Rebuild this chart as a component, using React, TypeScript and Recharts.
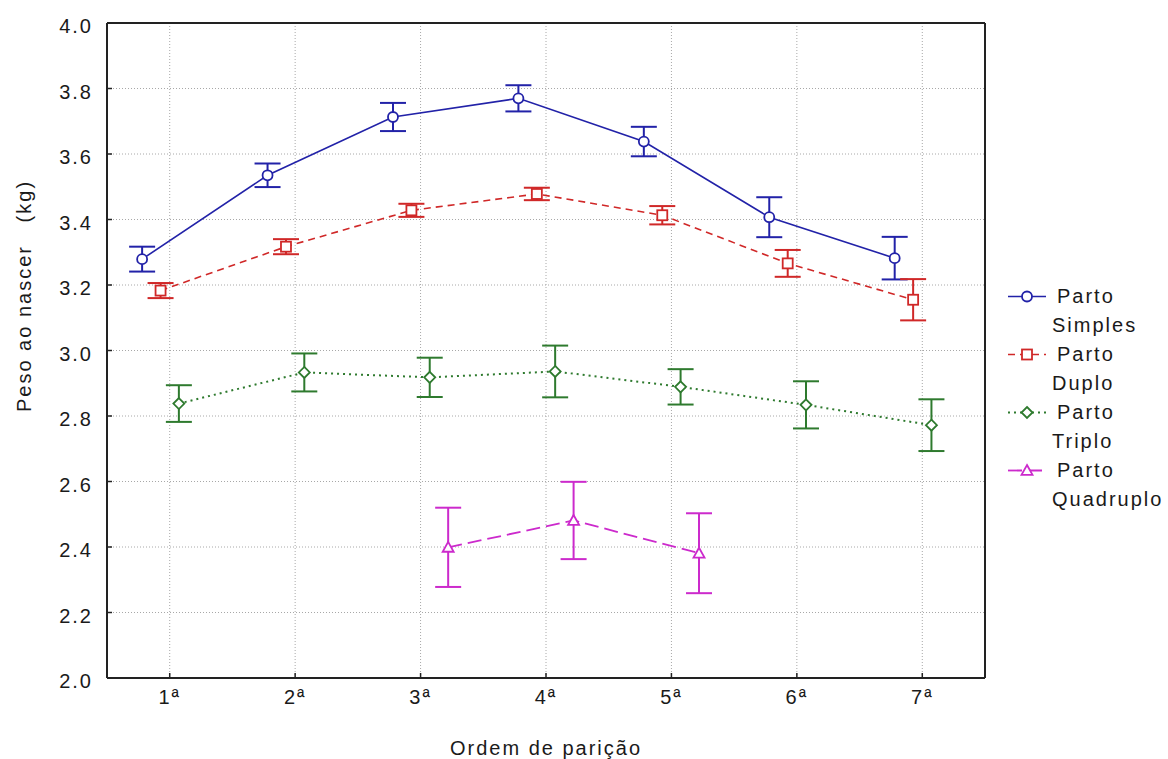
import React from 'react';
import { ComposedChart, Line, XAxis, YAxis, CartesianGrid, ErrorBar, Legend } from 'recharts';

// ---- data ----
const categories = ['1ª', '2ª', '3ª', '4ª', '5ª', '6ª', '7ª'];
const xTicks = [1, 2, 3, 4, 5, 6, 7];
const yTicks = [2.0, 2.2, 2.4, 2.6, 2.8, 3.0, 3.2, 3.4, 3.6, 3.8, 4.0];

const simplesMean = [3.279, 3.535, 3.713, 3.770, 3.638, 3.407, 3.282];
const simplesErr = [0.038, 0.036, 0.043, 0.040, 0.045, 0.061, 0.065];

const duploMean = [3.183, 3.317, 3.428, 3.478, 3.413, 3.266, 3.155];
const duploErr = [0.023, 0.023, 0.020, 0.019, 0.028, 0.041, 0.063];

const triploMean = [2.838, 2.933, 2.918, 2.936, 2.889, 2.834, 2.772];
const triploErr = [0.056, 0.058, 0.060, 0.079, 0.054, 0.072, 0.079];

const quadMean: (number | null)[] = [null, null, 2.399, 2.481, 2.381, null, null];
const quadErr: (number | null)[] = [null, null, 0.121, 0.118, 0.122, null, null];

const FONT = '"Liberation Sans", Arial, Helvetica, sans-serif';
const TEXT_COLOR = '#1a1a1a';
const FS = 20;
const LS = 2;

type Shape = 'circle' | 'square' | 'diamond' | 'triangle';

interface SeriesDef {
  key: string;
  line1: string;
  line2: string;
  mean: (number | null)[];
  err: (number | null)[];
  color: string;
  dash?: string;
  width: number;
  shape: Shape;
  offset: number;
}

const series: SeriesDef[] = [
  { key: 'simples', line1: 'Parto', line2: 'Simples', mean: simplesMean, err: simplesErr, color: '#2222a8', width: 1.6, shape: 'circle', offset: -0.22 },
  { key: 'duplo', line1: 'Parto', line2: 'Duplo', mean: duploMean, err: duploErr, color: '#d02828', dash: '7 5', width: 1.6, shape: 'square', offset: -0.073 },
  { key: 'triplo', line1: 'Parto', line2: 'Triplo', mean: triploMean, err: triploErr, color: '#2e7a2e', dash: '2 4', width: 2, shape: 'diamond', offset: 0.073 },
  { key: 'quad', line1: 'Parto', line2: 'Quadruplo', mean: quadMean, err: quadErr, color: '#cc2acc', dash: '14 6', width: 1.8, shape: 'triangle', offset: 0.22 },
];

function buildData(mean: (number | null)[], err: (number | null)[], offset: number) {
  const out: { x: number; y: number; e: number }[] = [];
  mean.forEach((m, i) => {
    if (m !== null && m !== undefined) {
      out.push({ x: xTicks[i] + offset, y: m, e: (err[i] as number) || 0 });
    }
  });
  return out;
}

function Marker({ cx, cy, shape, color }: { cx: number; cy: number; shape: Shape; color: string }) {
  const sw = 1.8;
  if (cx == null || cy == null || isNaN(cx) || isNaN(cy)) return null;
  if (shape === 'circle') {
    return <circle cx={cx} cy={cy} r={5} fill="#fff" stroke={color} strokeWidth={sw} />;
  }
  if (shape === 'square') {
    return <rect x={cx - 5} y={cy - 5} width={10} height={10} fill="#fff" stroke={color} strokeWidth={sw} />;
  }
  if (shape === 'diamond') {
    const d = 5.5;
    return (
      <polygon
        points={`${cx},${cy - d} ${cx + d},${cy} ${cx},${cy + d} ${cx - d},${cy}`}
        fill="#fff"
        stroke={color}
        strokeWidth={sw}
      />
    );
  }
  const h = 5.5;
  return (
    <polygon
      points={`${cx},${cy - h} ${cx + h},${cy + h * 0.8} ${cx - h},${cy + h * 0.8}`}
      fill="#fff"
      stroke={color}
      strokeWidth={sw}
    />
  );
}

const renderLegend = () => (
  <div style={{ fontFamily: FONT, fontSize: FS, letterSpacing: LS, color: TEXT_COLOR, lineHeight: '29px' }}>
    {series.map((s) => (
      <div key={s.key} style={{ position: 'relative', height: 58 }}>
        <svg width={46} height={29} style={{ position: 'absolute', left: 0, top: 0, overflow: 'visible' }}>
          <line x1={2} x2={40} y1={14.5} y2={14.5} stroke={s.color} strokeWidth={s.width} strokeDasharray={s.dash} />
          <Marker cx={21} cy={14.5} shape={s.shape} color={s.color} />
        </svg>
        <div style={{ position: 'absolute', left: 51, top: 0, whiteSpace: 'nowrap' }}>{s.line1}</div>
        <div style={{ position: 'absolute', left: 46, top: 29, whiteSpace: 'nowrap' }}>{s.line2}</div>
      </div>
    ))}
  </div>
);

const tickStyle = { fontFamily: FONT, fontSize: FS, fill: TEXT_COLOR, letterSpacing: LS };
const axisLineStyle = { stroke: '#222', strokeWidth: 2 };
const tickLineStyle = { stroke: '#222', strokeWidth: 1.5 };

export default function App() {
  return (
    <div style={{ position: 'absolute', left: 8, top: 8 }}>
      <ComposedChart width={1160} height={751} margin={{ top: 14, right: 182, bottom: 31, left: 0 }}>
        <CartesianGrid stroke="#a8a8a8" strokeDasharray="1 2" />
        <XAxis
          dataKey="x"
          type="number"
          domain={[0.5, 7.5]}
          ticks={xTicks}
          tickFormatter={(v: number) => categories[Math.round(v) - 1] ?? ''}
          height={50}
          tickSize={-5}
          tickMargin={17}
          tick={tickStyle}
          axisLine={axisLineStyle}
          tickLine={tickLineStyle}
          allowDataOverflow
          label={{
            content: (props: any) => {
              const vb = props.viewBox || {};
              const cx = (vb.x ?? 0) + (vb.width ?? 0) / 2;
              return (
                <text x={cx} y={747} textAnchor="middle" fontFamily={FONT} fontSize={FS} letterSpacing={LS} fill={TEXT_COLOR}>
                  Ordem de parição
                </text>
              );
            },
          }}
        />
        <XAxis
          xAxisId="top"
          orientation="top"
          dataKey="x"
          type="number"
          domain={[0.5, 7.5]}
          ticks={xTicks}
          height={1}
          tick={false}
          tickSize={-5}
          axisLine={axisLineStyle}
          tickLine={tickLineStyle}
          allowDataOverflow
        />
        <YAxis
          type="number"
          domain={[2, 4]}
          ticks={yTicks}
          width={99}
          tickSize={-5}
          tickMargin={19}
          tick={{ ...tickStyle, dy: 3 } as any}
          tickFormatter={(v: number) => v.toFixed(1)}
          axisLine={axisLineStyle}
          tickLine={tickLineStyle}
          allowDataOverflow
          label={{
            content: () => (
              <text
                x={23}
                y={288}
                transform="rotate(-90 23 288)"
                textAnchor="middle"
                fontFamily={FONT}
                fontSize={FS}
                letterSpacing={LS}
                fill={TEXT_COLOR}
                style={{ whiteSpace: 'pre' }}
              >
                {'Peso ao nascer   (kg)'}
              </text>
            ),
          }}
        />
        <YAxis
          yAxisId="right"
          orientation="right"
          type="number"
          domain={[2, 4]}
          ticks={yTicks}
          width={1}
          tick={false}
          tickSize={-5}
          axisLine={axisLineStyle}
          tickLine={tickLineStyle}
          allowDataOverflow
        />
        <Legend
          layout="vertical"
          align="center"
          verticalAlign="middle"
          content={renderLegend}
          wrapperStyle={{ position: 'absolute', left: 998, top: 274, width: 160 }}
        />
        {series.map((s) => (
          <Line
            key={s.key}
            name={`${s.line1} ${s.line2}`}
            data={buildData(s.mean, s.err, s.offset)}
            dataKey="y"
            type="linear"
            stroke={s.color}
            strokeWidth={s.width}
            strokeDasharray={s.dash}
            isAnimationActive={false}
            activeDot={false}
            dot={(p: any) => <Marker key={`${s.key}-${p.index}`} cx={p.cx} cy={p.cy} shape={s.shape} color={s.color} />}
          >
            <ErrorBar dataKey="e" width={13} stroke={s.color} strokeWidth={2} direction="y" isAnimationActive={false} />
          </Line>
        ))}
      </ComposedChart>
    </div>
  );
}
